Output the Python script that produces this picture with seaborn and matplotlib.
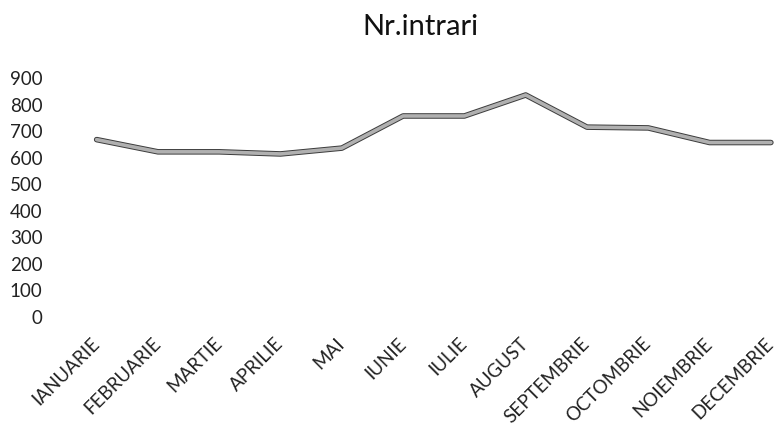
import pandas as pd
import matplotlib.pyplot as plt
import matplotlib.patheffects as pe
import seaborn as sns

# Data
months = ['IANUARIE', 'FEBRUARIE', 'MARTIE', 'APRILIE', 'MAI', 'IUNIE',
          'IULIE', 'AUGUST', 'SEPTEMBRIE', 'OCTOMBRIE', 'NOIEMBRIE', 'DECEMBRIE']
intrari = [668, 622, 622, 614, 636, 757, 757, 836, 715, 712, 657, 657]
y_ticks = [0, 100, 200, 300, 400, 500, 600, 700, 800, 900]

df = pd.DataFrame({'Luna': months, 'Nr.intrari': intrari})

sns.set_theme(style='white')
plt.rcParams['font.family'] = ['Lato', 'DejaVu Sans']

fig = plt.figure(figsize=(7.77, 4.33), dpi=100)
# plot area: Jan point at x=97px, Dec near 771px, 0 at y=317px, 900 at y=78px
ax = fig.add_axes([66 / 777, 1 - 317 / 433, (777 - 66) / 777, (317 - 78) / 433])

sns.lineplot(data=df, x='Luna', y='Nr.intrari', ax=ax, sort=False,
             color='#b0b0b0', linewidth=2.6,
             path_effects=[pe.Stroke(linewidth=4, foreground='#3c3c3c'), pe.Normal()])

ax.set_xlim(-0.5, 11.1)
ax.set_ylim(0, 900)
ax.set_yticks(y_ticks)
ax.set_yticklabels([str(v) for v in y_ticks], fontsize=13.5, color='#222222')
ax.set_xticks(range(len(months)))
ax.set_xticklabels(months, rotation=45, ha='right', va='center',
                   rotation_mode='anchor', fontsize=13.5, color='#222222')
ax.tick_params(axis='x', length=0, pad=17)
ax.tick_params(axis='y', length=0, pad=17)
ax.set_xlabel('')
ax.set_ylabel('')
sns.despine(ax=ax, left=True, bottom=True)

fig.text(420 / 777, 1 - 27 / 433, 'Nr.intrari', ha='center', va='center',
         fontsize=21, color='#111111')

fig.savefig('out.png', dpi=100)
